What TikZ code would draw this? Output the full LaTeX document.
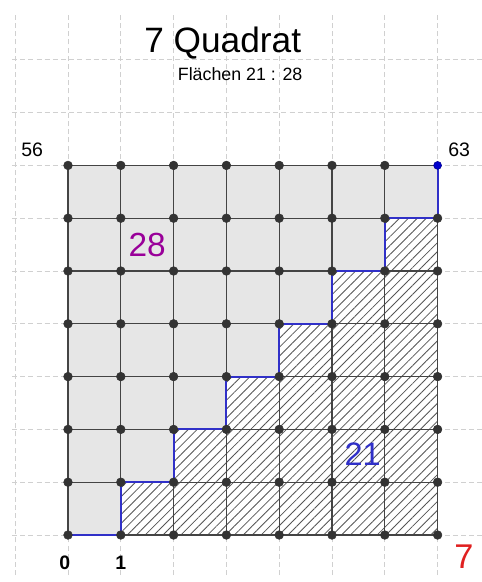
\documentclass[tikz,border=0pt]{standalone}
\usepackage{fontspec}
\setmainfont{Liberation Sans}
\usetikzlibrary{patterns.meta}
\definecolor{bggrid}{HTML}{D0D0D0}
\definecolor{cellgray}{HTML}{E6E6E6}
\definecolor{latline}{HTML}{444444}
\definecolor{dotgray}{HTML}{333333}
\definecolor{stairblue}{HTML}{3030C8}
\definecolor{dotblue}{HTML}{0000CC}
\definecolor{purp}{HTML}{990099}
\definecolor{hatchcol}{HTML}{555555}
\definecolor{redseven}{HTML}{E02020}
\tikzset{
  bgline/.style={draw=bggrid, line width=0.5pt, dash pattern=on 2.7pt off 1.7pt},
  latticeline/.style={draw=latline, line width=0.7pt},
  stairline/.style={draw=stairblue, line width=1pt},
  dotmark/.style={fill=dotgray, draw=black!80, line width=0.3pt},
  dotmarkblue/.style={fill=dotblue, draw=dotblue!70!black, line width=0.3pt},
  lbl/.style={inner sep=0pt, anchor=base}
}
\begin{document}
\begin{tikzpicture}[x=1cm,y=1cm]
\useasboundingbox (-1.288,-0.890) rectangle (7.841,10.133);
\fill[white] (-1.288,-0.890) rectangle (7.841,10.133);
% background dashed grid
\foreach \i in {-1,...,7} {
  \draw[bgline] (\i,-0.76) -- (\i,9.90);
}
\foreach \j in {0,...,9} {
  \draw[bgline] (-1.06,\j) -- (7.841,\j);
}
% lattice coordinates
\foreach \i in {0,...,7} {
  \foreach \j in {0,...,7} {
    \coordinate (p-\i-\j) at (\i,\j);
  }
}
% gray region (28)
\fill[cellgray] (p-0-0) -- (p-1-0) -- (p-1-1) -- (p-2-1) -- (p-2-2) -- (p-3-2) -- (p-3-3) -- (p-4-3) -- (p-4-4) -- (p-5-4) -- (p-5-5) -- (p-6-5) -- (p-6-6) -- (p-7-6) -- (p-7-7) -- (p-0-7) -- cycle;
% hatched region (21)
\fill[white] (p-1-0) -- (p-7-0) -- (p-7-6) -- (p-6-6) -- (p-6-5) -- (p-5-5) -- (p-5-4) -- (p-4-4) -- (p-4-3) -- (p-3-3) -- (p-3-2) -- (p-2-2) -- (p-2-1) -- (p-1-1) -- cycle;
\fill[pattern={Lines[angle=45,distance=3.4pt,line width=0.45pt]}, pattern color=hatchcol] (p-1-0) -- (p-7-0) -- (p-7-6) -- (p-6-6) -- (p-6-5) -- (p-5-5) -- (p-5-4) -- (p-4-4) -- (p-4-3) -- (p-3-3) -- (p-3-2) -- (p-2-2) -- (p-2-1) -- (p-1-1) -- cycle;
% lattice lines
\foreach \k in {0,...,7} {
  \draw[latticeline] (p-\k-0) -- (p-\k-7);
  \draw[latticeline] (p-0-\k) -- (p-7-\k);
}
% staircase
\draw[stairline] (p-0-0) -- (p-1-0) -- (p-1-1) -- (p-2-1) -- (p-2-2) -- (p-3-2) -- (p-3-3) -- (p-4-3) -- (p-4-4) -- (p-5-4) -- (p-5-5) -- (p-6-5) -- (p-6-6) -- (p-7-6) -- (p-7-7);
% dots
\foreach \i in {0,...,7} {
  \foreach \j in {0,...,7} {
    \ifnum\i=7 \ifnum\j=7 \else \fill[dotmark] (p-\i-\j) circle (0.082); \fi
    \else \fill[dotmark] (p-\i-\j) circle (0.082); \fi
  }
}
\filldraw[dotmarkblue] (p-7-7) circle (0.075);
% texts
\node[lbl] (title) at (2.93,9.14) {\fontsize{19pt}{22pt}\selectfont 7 Quadrat};
\node[lbl] (sub) at (3.26,8.60) {\fontsize{9.6pt}{11pt}\selectfont Flächen 21 : 28};
\node[lbl] (l56) at (-0.68,7.17) {\fontsize{10.5pt}{12pt}\selectfont 56};
\node[lbl] (l63) at (7.41,7.17) {\fontsize{10.5pt}{12pt}\selectfont 63};
\node[lbl] (l0) at (-0.06,-0.66) {\fontsize{10.5pt}{12pt}\selectfont\bfseries 0};
\node[lbl] (l1) at (1.0,-0.66) {\fontsize{10.5pt}{12pt}\selectfont\bfseries 1};
\node[lbl, text=redseven] (l7) at (7.5,-0.63) {\fontsize{18.5pt}{22pt}\selectfont 7};
\node[lbl, text=stairblue] (a21) at (5.58,1.31) {\fontsize{17.5pt}{21pt}\selectfont 21};
\node[lbl, text=purp] (a28) at (1.50,5.27) {\fontsize{18pt}{21pt}\selectfont 28};
\end{tikzpicture}
\end{document}
